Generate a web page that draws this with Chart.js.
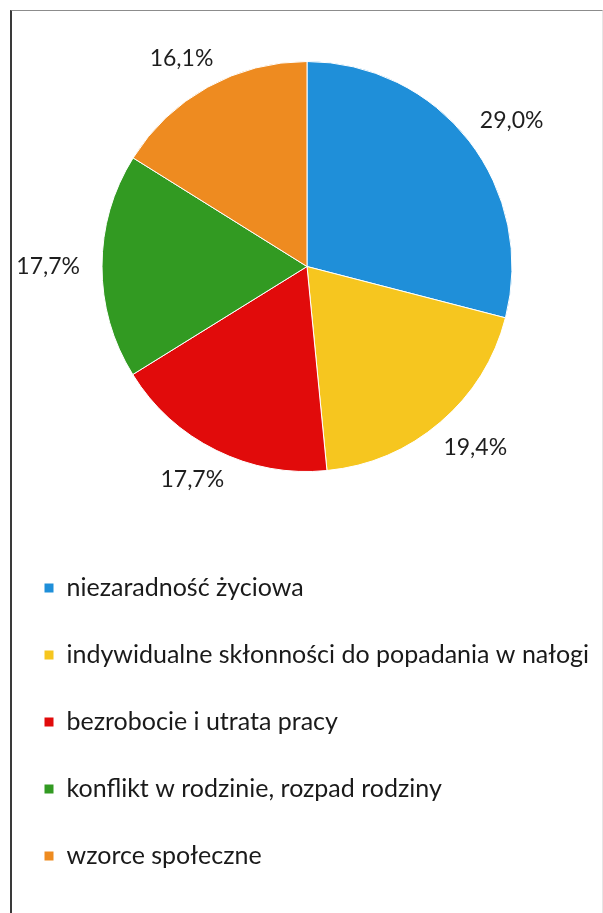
<!DOCTYPE html>
<html>
<head>
<meta charset="utf-8">
<title>Przyczyny</title>
<script src="https://cdn.jsdelivr.net/npm/chart.js@4.4.1/dist/chart.umd.min.js"></script>
<style>
  html, body { margin: 0; padding: 0; background: #fff; overflow: hidden; width: 603px; height: 913px; }
  #frame {
    position: absolute; left: 10px; top: 10px; width: 590px; height: 910px;
    border-left: 2px solid #3a3a3a; border-top: 1px solid #8c8c8c; border-right: 1px solid #e6e6e6;
  }
  #wrap { position: absolute; left: 2px; top: 0; width: 610px; height: 913px; }
</style>
</head>
<body>
<div id="frame"></div>
<div id="wrap"><canvas id="pie"></canvas></div>

<script>
const categories = [
  'niezaradność życiowa',
  'indywidualne skłonności do popadania w nałogi',
  'bezrobocie i utrata pracy',
  'konflikt w rodzinie, rozpad rodziny',
  'wzorce społeczne'
];
const shares = [29.0, 19.4, 17.7, 17.7, 16.1];
const colors = ['#1f8fd9', '#f6c61f', '#e10b0b', '#329a22', '#ee8b20'];

const FONT = 'Lato, "Open Sans", sans-serif';

// percentage labels just outside each slice
const outsideLabels = {
  id: 'outsideLabels',
  afterDatasetsDraw(chart) {
    const ctx = chart.ctx;
    const meta = chart.getDatasetMeta(0);
    const gap = 22;
    ctx.save();
    ctx.font = '23px ' + FONT;
    ctx.fillStyle = '#1e1e1e';
    ctx.textAlign = 'center';
    ctx.textBaseline = 'middle';
    meta.data.forEach((arc, i) => {
      const p = arc.getProps(['x', 'y', 'startAngle', 'endAngle', 'outerRadius'], true);
      const mid = (p.startAngle + p.endAngle) / 2;
      const dx = Math.cos(mid), dy = Math.sin(mid);
      const text = shares[i].toFixed(1).replace('.', ',') + '%';
      const w = ctx.measureText(text).width;
      const h = 22;
      const px = p.x + dx * (p.outerRadius + gap) + dx * w / 2;
      const py = p.y + dy * (p.outerRadius + gap) + dy * h / 2;
      ctx.fillText(text, px, py);
    });
    ctx.restore();
  }
};

new Chart(document.getElementById('pie'), {
  type: 'pie',
  data: {
    labels: categories,
    datasets: [{
      data: shares,
      backgroundColor: colors,
      borderColor: '#ffffff',
      borderWidth: 1,
      hoverOffset: 0
    }]
  },
  options: {
    responsive: true,
    maintainAspectRatio: false,
    animation: false,
    events: [],
    layout: { padding: { top: 61, bottom: 34.5, left: 0, right: 0 } },
    plugins: {
      tooltip: { enabled: false },
      legend: {
        position: 'bottom',
        align: 'start',
        title: { display: true, text: '', font: { size: 10, lineHeight: 1 }, padding: { top: 51.5, bottom: 0 } },
        labels: {
          boxWidth: 10,
          boxHeight: 10,
          padding: 42,
          color: '#1a1a1a',
          font: { family: FONT, size: 25 }
        }
      }
    }
  },
  plugins: [outsideLabels]
});
</script>
</body>
</html>
